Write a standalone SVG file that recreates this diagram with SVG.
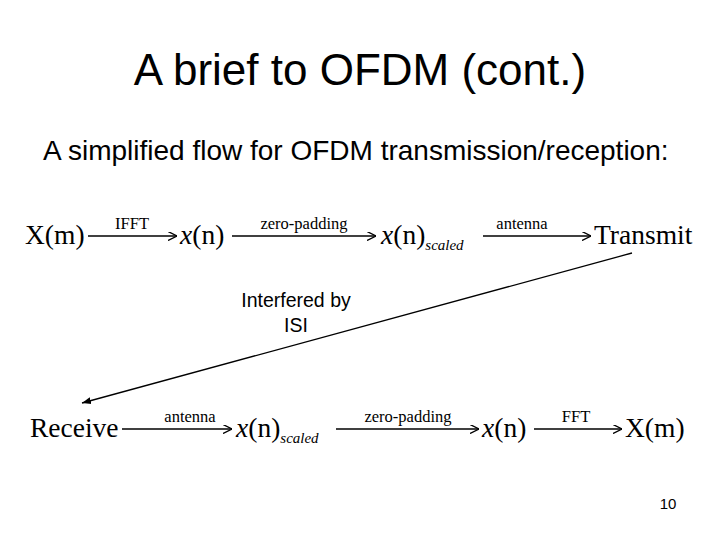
<svg xmlns="http://www.w3.org/2000/svg" width="720" height="540" viewBox="0 0 720 540">
<defs>
<style>
.s{font-family:"Liberation Sans",Arial,sans-serif;fill:#000}
.m{font-family:"Liberation Serif","Times New Roman",serif;fill:#000;font-size:27.5px}
.l{font-family:"Liberation Serif","Times New Roman",serif;fill:#000;font-size:16.5px;text-anchor:middle}
.a{stroke:#000;stroke-width:1.5;fill:none;marker-end:url(#ah)}
</style>
<marker id="ah" viewBox="0 0 10 10" refX="10" refY="5" markerWidth="9" markerHeight="9" markerUnits="userSpaceOnUse" orient="auto"><path d="M0,0 L10,5 L0,10" fill="none" stroke="#000" stroke-width="1.5"/></marker>
<marker id="dh" viewBox="0 0 10 10" refX="10" refY="5" markerWidth="9" markerHeight="9" markerUnits="userSpaceOnUse" orient="auto"><path d="M0,1 L10,5 L0,9 Z" fill="#000"/></marker>
</defs>
<rect width="720" height="540" fill="#fff"/>
<text class="s" x="360" y="85" font-size="44" text-anchor="middle">A brief to OFDM (cont.)</text>
<text class="s" x="43" y="160" font-size="28">A simplified flow for OFDM transmission/reception:</text>
<g id="t1"><text class="m" x="25" y="244">X(m)</text></g>
<g id="t2"><text class="m" x="180" y="244"><tspan font-style="italic">x</tspan>(n)</text></g>
<g id="t3"><text class="m" x="381" y="244"><tspan font-style="italic">x</tspan>(n)<tspan font-size="15" font-style="italic" dy="6">scaled</tspan></text></g>
<g id="t4"><text class="m" x="594" y="244">Transmit</text></g>
<g id="r1"><text class="m" x="30" y="437">Receive</text></g>
<g id="r2"><text class="m" x="236" y="437"><tspan font-style="italic">x</tspan>(n)<tspan font-size="15" font-style="italic" dy="6">scaled</tspan></text></g>
<g id="r3"><text class="m" x="482" y="437"><tspan font-style="italic">x</tspan>(n)</text></g>
<g id="r4"><text class="m" x="625" y="437">X(m)</text></g>
<g id="connectors">
<line class="a" x1="88" y1="236" x2="177" y2="236"/>
<line class="a" x1="232" y1="236" x2="376" y2="236"/>
<line class="a" x1="483" y1="236" x2="591" y2="236"/>
<line class="a" x1="122" y1="429" x2="232" y2="429"/>
<line class="a" x1="336" y1="429" x2="479" y2="429"/>
<line class="a" x1="534" y1="429" x2="622" y2="429"/>
<line x1="632" y1="253" x2="82" y2="403" stroke="#000" stroke-width="1.3" marker-end="url(#dh)"/>
</g>
<g id="labels">
<text class="l" x="132" y="229">IFFT</text>
<text class="l" x="304" y="229">zero-padding</text>
<text class="l" x="522" y="229">antenna</text>
<text class="l" x="190" y="422">antenna</text>
<text class="l" x="408" y="422">zero-padding</text>
<text class="l" x="576" y="422">FFT</text>
<text class="s" x="296" y="307" font-size="19.5" text-anchor="middle">Interfered by</text>
<text class="s" x="296" y="332" font-size="19.5" text-anchor="middle">ISI</text>
</g>
<text class="s" x="668" y="509" font-size="15" text-anchor="middle">10</text>
</svg>
